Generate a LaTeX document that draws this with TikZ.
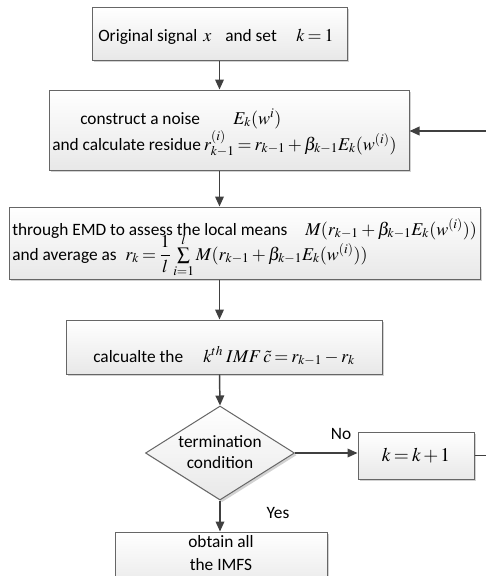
\documentclass[tikz,border=0pt]{standalone}
\usepackage{mathptmx}
\usepackage[no-math]{fontspec}
\setmainfont{Carlito}
\usetikzlibrary{arrows.meta,shapes.geometric,shadows}
\newcommand\mth[1]{{\fontsize{13.5}{15}\selectfont\thickmuskip=3mu\medmuskip=2.5mu$#1$}}
\begin{document}
\begin{tikzpicture}[x=0.75pt,y=-0.75pt,
  font=\fontsize{13}{15}\selectfont,
  box/.style={draw=black!60, line width=0.75pt, top color=white, bottom color=black!9,
    drop shadow={shadow xshift=1.6pt, shadow yshift=-1.6pt, fill=black!35, opacity=0.5},
    inner sep=0pt},
  arr/.style={draw=black!75, line width=1.1pt, -{Triangle[length=7.5pt,width=6.5pt]}},
  txt/.style={inner sep=0pt, anchor=base west},
  ctxt/.style={inner sep=0pt, align=center}]
\useasboundingbox (0,0) rectangle (486,576);
\clip (0,0) rectangle (486,576);
% boxes
\node[box, minimum width=191.25pt, minimum height=39.75pt] (b1) at (219.5,33.5) {};
\node[box, minimum width=270pt, minimum height=60pt] (b2) at (229,130) {};
\node[box, minimum width=353.25pt, minimum height=54pt] (b3) at (244.5,243) {};
\node[box, minimum width=237pt, minimum height=40.5pt] (b4) at (224,347) {};
\node[box, shape=diamond, aspect=1.585, minimum width=111.75pt, minimum height=70.5pt] (d) at (220,453) {};
\node[box, minimum width=87pt, minimum height=35.25pt] (b5) at (416,455.5) {};
\node[box, minimum width=159pt, minimum height=43.5pt] (b6) at (221,561) {};
% texts
\node[txt] (t1a) at (98,41) {Original signal};
\node[txt] (t1x) at (203,41) {\mth{x}};
\node[txt] (t1b) at (225,41) {and set};
\node[txt] (t1c) at (296,41) {\mth{k=1}};
\node[txt] (t2a) at (80,124) {construct a noise};
\node[txt] (t2m) at (233,124) {\mth{E_k(w^i)}};
\node[txt] (t2b) at (52,150) {and calculate residue\,\mth{r_{k-1}^{(i)} = r_{k-1}+\beta_{k-1}E_k(w^{(i)})}};
\node[txt] (t3a) at (12,235) {through EMD to assess the local means};
\node[txt] (t3m) at (305,235) {\mth{M(r_{k-1}+\beta_{k-1}E_k(w^{(i)}))}};
\node[txt] (t3b) at (12,260) {and average as};
\node[txt] (t3n) at (125,260) {\mth{r_k={\displaystyle\frac{1}{l}}\sum\limits_{i=1}^{l} M(r_{k-1}+\beta_{k-1}E_k(w^{(i)}))}};
\node[txt] (t4) at (93,362) {calcualte the};
\node[txt] (t4m) at (203,362) {\mth{k^{th}\;IMF\,\tilde c = r_{k-1}-r_k}};
\node[ctxt] (td) at (220,452) {termination\\[1pt]condition};
\node[ctxt] (t5) at (416,455.5) {\fontsize{14.5}{17}\selectfont\thickmuskip=3mu\medmuskip=2mu$k=k+1$};
\node[ctxt] (t6) at (221,553) {obtain all\\[2pt]the IMFS};
\node[ctxt] (no) at (341,434) {No};
\node[ctxt] (yes) at (278,513) {Yes};
% connectors
\coordinate (c1) at (498,455.5);
\coordinate (c2) at (498,131);
\draw[arr] (b1.south) -- (b1.south |- b2.north);
\draw[arr] (b1.south |- b2.south) -- (b1.south |- b3.north);
\draw[arr] (b1.south |- b3.south) -- (b1.south |- b4.north);
\draw[arr] (b1.south |- b4.south) -- (d.north);
\draw[arr] (d.east) -- (b5.west |- d.east);
\draw[arr] (d.south) -- (d.south |- b6.north);
\draw[arr] (b5.east) -- (c1) -- (c2) -- (b2.east |- c2);
\end{tikzpicture}
\end{document}
